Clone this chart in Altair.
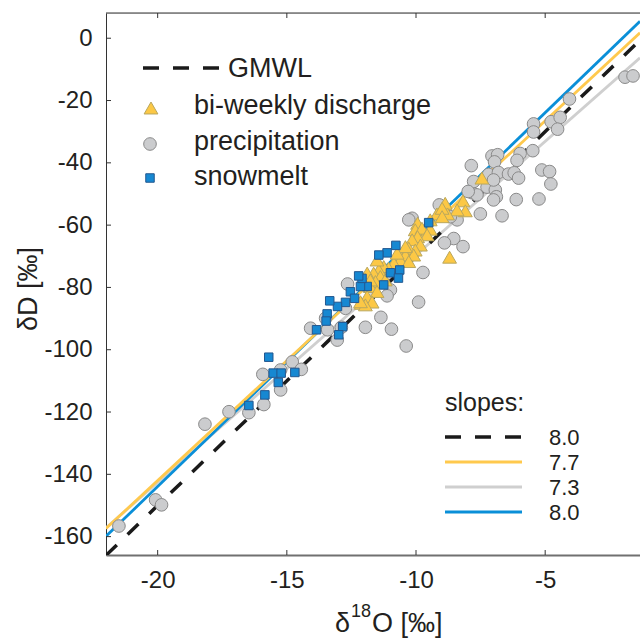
import altair as alt
import pandas as pd

FONT = "Liberation Sans"
TXT = "#231f20"

# ---------------- data ----------------
precip_o18 = [-1.91, -1.60, -4.06, -5.45, -5.45, -4.77, -4.42, -4.52, -7.06, -6.84,
              -6.96, -5.97, -6.09, -5.48, -7.86, -7.19, -6.81, -6.42, -6.20, -6.03,
              -5.13, -4.83, -4.78, -7.83, -7.64, -7.25, -6.93, -6.89, -7.00, -6.12,
              -5.24, -7.51, -6.67, -8.41, -8.67, -8.54, -8.90, -8.18, -7.00, -10.15,
              -10.28, -9.73, -9.90, -10.38, -11.36, -11.96, -10.95, -12.65, -10.99, -11.12,
              -12.73, -13.50, -14.08, -13.42, -13.05, -14.79, -14.44, -15.24, -15.93, -15.24,
              -15.89, -16.47, -17.24, -18.17, -20.08, -19.85, -21.50, -9.10, -12.89, -7.77,
              -7.98]
precip_d = [-12.5, -12.1, -19.5, -27.5, -30.1, -26.8, -25.4, -29.2, -37.8, -37.4,
            -39.7, -37.0, -39.2, -36.1, -40.9, -43.7, -43.1, -43.6, -43.2, -44.9,
            -42.3, -42.8, -46.8, -49.6, -50.3, -47.8, -48.7, -50.9, -51.9, -51.8,
            -51.6, -56.4, -57.0, -58.3, -57.3, -64.3, -65.7, -66.9, -45.5, -57.8,
            -58.3, -75.2, -84.7, -98.8, -89.6, -92.8, -93.4, -78.9, -80.8, -82.7,
            -86.7, -89.9, -93.1, -93.6, -96.9, -103.9, -106.3, -106.5, -107.9, -112.9,
            -117.6, -120.2, -119.9, -123.9, -148.2, -149.8, -156.6, -53.5, -92.8, -46.0,
            -49.2]

discharge_o18 = [-7.45, -8.18, -8.09, -8.41, -8.87, -8.78, -9.19, -8.99, -9.45, -9.94,
                 -10.03, -9.77, -9.45, -9.57, -9.94, -10.15, -9.83, -10.03, -10.28, -10.41,
                 -10.09, -10.61, -10.28, -10.86, -11.06, -11.25, -11.44, -11.64, -11.38, -11.19,
                 -11.57, -11.77, -11.51, -11.89, -11.70, -12.12, -10.41, -10.73, -8.99, -8.70,
                 -11.51, -11.89, -11.77, -11.96, -12.15]
discharge_d = [-44.9, -52.2, -55.4, -55.1, -53.0, -56.4, -56.4, -54.6, -58.3, -59.4,
               -61.5, -61.0, -61.3, -63.1, -63.7, -64.7, -66.4, -68.0, -67.4, -69.6,
               -69.6, -71.2, -71.7, -72.2, -73.8, -73.3, -74.4, -75.4, -76.5, -77.6,
               -78.1, -79.7, -81.3, -82.9, -84.7, -85.1, -66.9, -69.0, -57.3, -70.3,
               -71.2, -75.4, -77.6, -85.6, -84.6]

snow_o18 = [-9.51, -10.78, -11.12, -11.44, -10.63, -10.99, -10.68, -11.25, -11.89, -12.15,
            -12.09, -12.22, -12.54, -12.38, -12.73, -13.04, -13.34, -13.44, -13.48, -13.85,
            -12.84, -12.99, -15.70, -15.53, -15.22, -14.69, -15.33, -15.85, -16.47]
snow_d = [-59.2, -66.5, -68.9, -69.6, -74.4, -75.3, -77.0, -79.2, -79.7, -79.7,
          -77.1, -76.3, -81.4, -83.5, -84.8, -86.1, -84.3, -88.5, -90.8, -93.6,
          -92.6, -95.2, -102.4, -107.5, -107.5, -107.3, -110.5, -114.5, -117.9]

# regression / meteoric water lines: slope, intercept
line_names = ["GMWL", "discharge", "precipitation", "snowmelt"]
line_slopes = [8.0, 7.7, 7.3, 8.0]
line_intercepts = [10.0, 12.0, 3.4, 16.1]
line_colors = ["#1a1a1a", "#FFC94D", "#CFCFCF", "#0A8FD8"]

legend_labels = ["GMWL", "bi-weekly discharge", "precipitation", "snowmelt"]
slope_labels = ["%.1f" % s for s in line_slopes]

x_ticks = [-20, -15, -10, -5]
y_ticks = [0, -20, -40, -60, -80, -100, -120, -140, -160]

# ---------------- layout ----------------
W, H = 534, 542
XMIN, XMAX = -22.0, -1.33
YMIN, YMAX = -165.9, 8.1

xs = alt.Scale(domain=[XMIN, XMAX], nice=False, zero=False)
ys = alt.Scale(domain=[YMIN, YMAX], nice=False, zero=False)

x_axis = alt.Axis(values=x_ticks, labelExpr="datum.value + ''", title=None, ticks=False,
                  domain=True, domainColor="#707070", domainWidth=2, grid=False,
                  labelFontSize=24, labelFont=FONT, labelColor=TXT, labelPadding=13)
y_axis = alt.Axis(values=y_ticks, labelExpr="datum.value + ''", title=None, ticks=False,
                  domain=True, domainColor="#333333", domainWidth=1, grid=False,
                  labelFontSize=24, labelFont=FONT, labelColor=TXT, labelPadding=14)


def X(f):
    return alt.X(f, type="quantitative", scale=xs, axis=x_axis)


def Y(f):
    return alt.Y(f, type="quantitative", scale=ys, axis=y_axis)


one = pd.DataFrame({"k": [0]})

# lines
line_layers = []
order = [2, 3, 1, 0]
for i in order:
    df = pd.DataFrame({"x": [XMIN, XMAX],
                       "y": [line_slopes[i] * XMIN + line_intercepts[i],
                             line_slopes[i] * XMAX + line_intercepts[i]]})
    kw = dict(color=line_colors[i], strokeWidth=2.8, clip=True)
    if i == 0:
        kw.update(strokeDash=[15, 15], strokeWidth=3.5)
    line_layers.append(alt.Chart(df).mark_line(**kw).encode(x=X("x"), y=Y("y")))

precip = alt.Chart(pd.DataFrame({"o": precip_o18, "d": precip_d})).mark_point(
    shape="circle", filled=True, fill="#CBCCCE", stroke="#8A8A8A", strokeWidth=1,
    size=160, opacity=1).encode(x=X("o"), y=Y("d"))
disch = alt.Chart(pd.DataFrame({"o": discharge_o18, "d": discharge_d})).mark_point(
    shape="triangle-up", filled=True, fill="#FCC845", stroke="#B9A75E", strokeWidth=1,
    size=190, opacity=1).encode(x=X("o"), y=Y("d"))
snow = alt.Chart(pd.DataFrame({"o": snow_o18, "d": snow_d})).mark_point(
    shape="square", filled=True, fill="#1688D2", stroke="#23578F", strokeWidth=1,
    size=72, opacity=1).encode(x=X("o"), y=Y("d"))

# inward ticks
xt = pd.DataFrame({"v": x_ticks})
yt = pd.DataFrame({"v": y_ticks})
tick_col = "#333333"
ticks = [
    alt.Chart(xt).mark_rule(color=tick_col, strokeWidth=1).encode(
        x=X("v"), y=alt.value(H), y2=alt.value(H - 5)),
    alt.Chart(xt).mark_rule(color=tick_col, strokeWidth=1).encode(
        x=X("v"), y=alt.value(0), y2=alt.value(5)),
    alt.Chart(yt).mark_rule(color=tick_col, strokeWidth=1).encode(
        y=Y("v"), x=alt.value(0), x2=alt.value(5)),
    alt.Chart(one).mark_rule(color=tick_col, strokeWidth=1).encode(
        x=alt.value(0), x2=alt.value(W), y=alt.value(0)),
]

# legend (top-left)
def txt(s, x, y, size=27, **kw):
    return alt.Chart(one).mark_text(text=s, align="left", baseline="middle", fontSize=size,
                                    font=FONT, color=TXT, **kw).encode(
        x=alt.value(x), y=alt.value(y))

leg = [
    alt.Chart(one).mark_rule(color=line_colors[0], strokeWidth=3.5, strokeDash=[16, 14]).encode(
        x=alt.value(37), x2=alt.value(113), y=alt.value(55)),
    txt(legend_labels[0], 122, 56),
    alt.Chart(one).mark_point(shape="triangle-up", filled=True, fill="#FCC845", stroke="#B9A75E",
                              strokeWidth=1, size=190, opacity=1).encode(
        x=alt.value(45), y=alt.value(95)),
    txt(legend_labels[1], 88, 93),
    alt.Chart(one).mark_point(shape="circle", filled=True, fill="#CBCCCE", stroke="#8A8A8A",
                              strokeWidth=1, size=160, opacity=1).encode(
        x=alt.value(44), y=alt.value(131)),
    txt(legend_labels[2], 88, 129),
    alt.Chart(one).mark_point(shape="square", filled=True, fill="#1688D2", stroke="#23578F",
                              strokeWidth=1, size=72, opacity=1).encode(
        x=alt.value(44), y=alt.value(165)),
    txt(legend_labels[3], 88, 164),
]

# slopes legend
slope_leg = [txt("slopes:", 339, 390, size=25)]
ys_leg = [424, 449, 474, 499]
for i in range(4):
    kw = dict(color=line_colors[i], strokeWidth=2.8)
    if i == 0:
        kw.update(strokeDash=[16, 14], strokeWidth=3.5)
    slope_leg.append(alt.Chart(one).mark_rule(**kw).encode(
        x=alt.value(339), x2=alt.value(416), y=alt.value(ys_leg[i])))
    slope_leg.append(txt(slope_labels[i], 443, ys_leg[i] + 1, size=22))

# axis titles
titles = [
    alt.Chart(one).mark_text(text="δD [‰]", align="center", baseline="middle", angle=270,
                             fontSize=27, font=FONT, color=TXT).encode(
        x=alt.value(-77), y=alt.value(276)),
    alt.Chart(one).mark_text(text="δ", align="left", baseline="alphabetic",
                             fontSize=27, font=FONT, color=TXT).encode(
        x=alt.value(229), y=alt.value(619)),
    alt.Chart(one).mark_text(text="18", align="left", baseline="alphabetic",
                             fontSize=18, font=FONT, color=TXT).encode(
        x=alt.value(245), y=alt.value(604)),
    alt.Chart(one).mark_text(text="O [‰]", align="left", baseline="alphabetic",
                             fontSize=27, font=FONT, color=TXT).encode(
        x=alt.value(266), y=alt.value(619)),
]

chart = alt.layer(*line_layers, precip, disch, snow, *ticks, *leg, *slope_leg, *titles).properties(
    width=W, height=H,
    autosize=alt.AutoSizeParams(type="none"),
    padding={"left": 106, "top": 13, "right": 0, "bottom": 85},
).configure_view(stroke="transparent").configure(background="white")

chart.save("out.html", embed_options={"renderer": "svg", "actions": False})
